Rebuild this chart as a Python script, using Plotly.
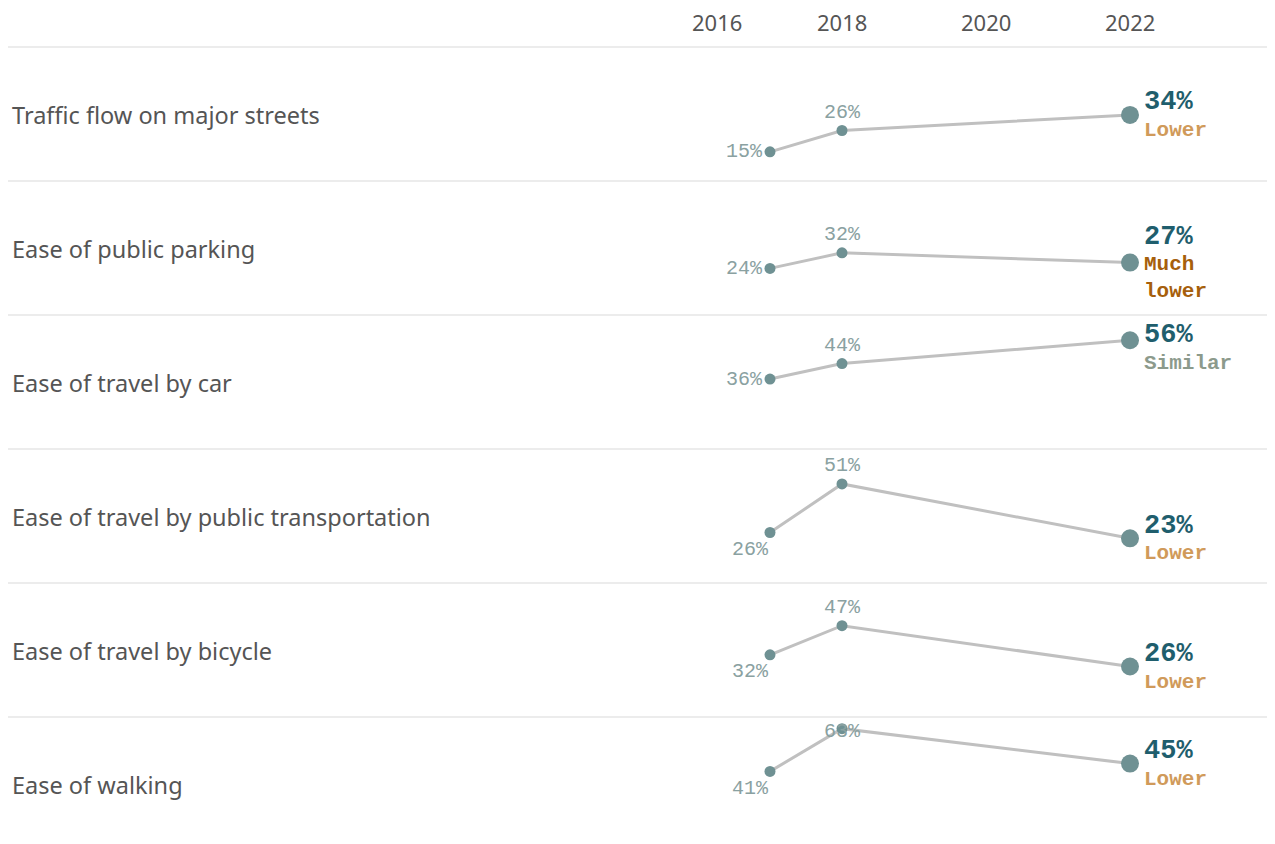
import plotly.graph_objects as go

# ---------------- data ----------------
categories = [
    "Traffic flow on major streets",
    "Ease of public parking",
    "Ease of travel by car",
    "Ease of travel by public transportation",
    "Ease of travel by bicycle",
    "Ease of walking",
]
years = [2017, 2018, 2022]
v2017 = [15, 24, 36, 26, 32, 41]
v2018 = [26, 32, 44, 51, 47, 63]
v2022 = [34, 27, 56, 23, 26, 45]
comparison = ["Lower", "Much<br>lower", "Similar", "Lower", "Lower", "Lower"]
header_years = [2016, 2018, 2020, 2022]

# ---------------- style ----------------
OFF = 8                      # page offset of the plot div (body margin)
W, H = 1275 - OFF, 844 - OFF
TOP = 47 - OFF               # header height (px)
ROW = 134                    # row height (px)
YMIN, YMAX = 0, 69
PPX = ROW / (YMAX - YMIN)    # px per percentage point
X0PX, X1PX = 680 - OFF, W
X2018 = 842 - OFF
XR = [2018 - (X2018 - X0PX) / 72, 2018 + (X1PX - X2018) / 72]

LINE_C = "#c0c0c0"
DOT_C = "#6f9193"
SMALL_C = "#8aa1a1"
PCT_C = "#1f5e6d"
CMP_C = {"Lower": "#d09a5a", "Much<br>lower": "#a65f0c", "Similar": "#8c9a8c"}
MONO = "Courier New, Liberation Mono, monospace"
SANS = "Noto Sans, Open Sans, sans-serif"
first_below = [False, False, False, True, True, True]

fig = go.Figure()
annotations = []
shapes = []

n = len(categories)
for i in range(n):
    top_px = TOP + ROW * i
    bot_px = top_px + ROW
    ymin = YMIN
    if bot_px > H:
        ymin = YMIN + (bot_px - H) / PPX
        bot_px = H
    ax = "" if i == 0 else str(i + 1)
    xa, ya = "x" + ax, "y" + ax
    fig.update_layout(**{
        "xaxis" + ax: dict(domain=[X0PX / W, X1PX / W], range=XR, visible=False,
                           fixedrange=True),
        "yaxis" + ax: dict(domain=[1 - bot_px / H, 1 - top_px / H], range=[ymin, YMAX],
                           visible=False, fixedrange=True),
    })
    vals = [v2017[i], v2018[i], v2022[i]]
    fig.add_trace(go.Scatter(x=years, y=vals, mode="lines", xaxis=xa, yaxis=ya,
                             line=dict(color=LINE_C, width=3), hoverinfo="skip",
                             showlegend=False))
    fig.add_trace(go.Scatter(x=years, y=vals, mode="markers", xaxis=xa, yaxis=ya,
                             marker=dict(color=DOT_C, size=[11, 11, 18], opacity=1,
                                         line=dict(width=0)),
                             showlegend=False))

    def ypx(v):
        return top_px + (YMAX - v) * PPX

    # first point label
    if first_below[i]:
        annotations.append(dict(x=years[0], y=vals[0], xref=xa, yref=ya,
                                text=f"{vals[0]}%", showarrow=False,
                                xanchor="right", yanchor="middle",
                                xshift=1, yshift=-17,
                                font=dict(family=MONO, size=20, color=SMALL_C)))
    else:
        annotations.append(dict(x=years[0], y=vals[0], xref=xa, yref=ya,
                                text=f"{vals[0]}%", showarrow=False,
                                xanchor="right", yanchor="middle",
                                xshift=-5, yshift=0,
                                font=dict(family=MONO, size=20, color=SMALL_C)))
    # second point label (above, kept inside the row)
    p = ypx(vals[1])
    c = max(p - 18, top_px + 15)
    annotations.append(dict(x=years[1], y=vals[1], xref=xa, yref=ya,
                            text=f"{vals[1]}%", showarrow=False,
                            xanchor="center", yanchor="middle", yshift=p - c,
                            font=dict(family=MONO, size=20, color=SMALL_C)))
    # last point: big value + comparison
    nlines = comparison[i].count("<br>") + 1
    p = ypx(vals[2])
    pc = p - 14.5 - 13 * (nlines - 1)
    pc = max(pc, top_px + 18)
    sc = pc + 29 + 13 * (nlines - 1)
    annotations.append(dict(x=years[2], y=vals[2], xref=xa, yref=ya,
                            text=f"<b>{vals[2]}%</b>", showarrow=False,
                            xanchor="left", yanchor="middle", xshift=12,
                            yshift=p - pc - 2,
                            font=dict(family=MONO, size=27, color=PCT_C)))
    annotations.append(dict(x=years[2], y=vals[2], xref=xa, yref=ya,
                            text=f"<b>{comparison[i]}</b>", showarrow=False,
                            xanchor="left", yanchor="middle", xshift=12,
                            yshift=p - sc - 1,
                            align="left",
                            font=dict(family=MONO, size=21, color=CMP_C[comparison[i]])))
    # row label
    annotations.append(dict(x=(10 - OFF) / W, y=1 - (TOP + ROW * i + ROW / 2 + 1) / H,
                            xref="paper", yref="paper", text=categories[i],
                            showarrow=False, xanchor="left", yanchor="middle",
                            font=dict(family=SANS, size=23.5, color="#555555")))
    # separator above row
    shapes.append(dict(type="line", xref="paper", yref="paper",
                       x0=0, x1=1, y0=1 - top_px / H, y1=1 - top_px / H,
                       line=dict(color="#d9d9d9", width=1)))

# header years
for yr in header_years:
    first = yr == header_years[0]
    annotations.append(dict(x=yr, y=1 - (22 - OFF) / H, xref="x", yref="paper",
                            text=str(yr), showarrow=False,
                            xanchor="left" if first else "center",
                            yanchor="middle", xshift=-7 if first else 0, borderpad=0,
                            font=dict(family=SANS, size=22, color="#555555")))

fig.update_layout(width=W, height=H, margin=dict(l=0, r=0, t=0, b=0),
                  paper_bgcolor="white", plot_bgcolor="white",
                  annotations=annotations, shapes=shapes, showlegend=False)
fig.write_html("out.html")
